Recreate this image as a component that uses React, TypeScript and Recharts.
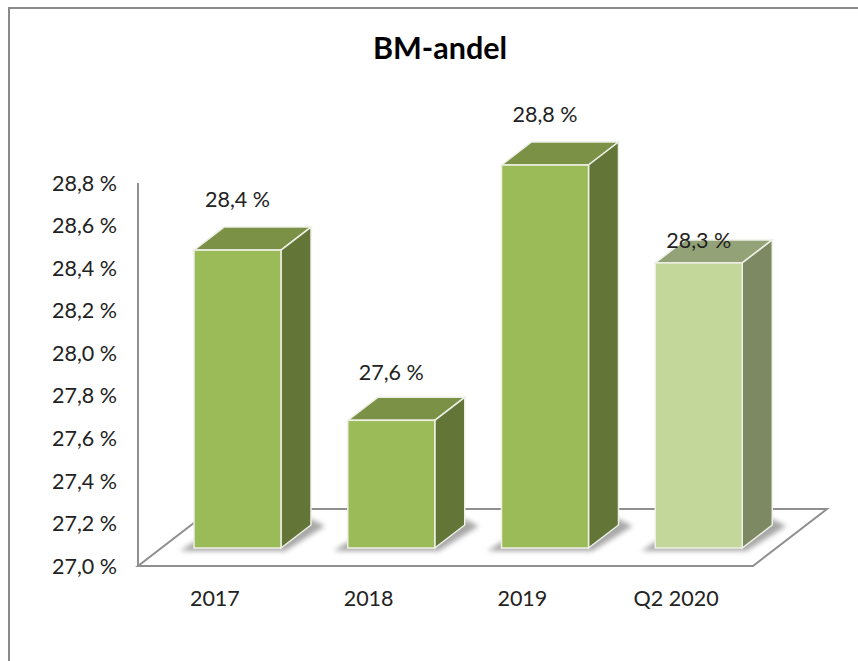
import { BarChart, Bar, XAxis, YAxis, LabelList, usePlotArea } from 'recharts'

const categories = ['2017', '2018', '2019', 'Q2 2020']
const shares = [28.4, 27.6, 28.8, 28.34]
const yTicks = [27.0, 27.2, 27.4, 27.6, 27.8, 28.0, 28.2, 28.4, 28.6, 28.8]

const data = categories.map((category, i) => ({ category, share: shares[i] }))

const FONT = 'Lato, sans-serif'
const AXIS_GREY = '#8f8f8f'
const TEXT = '#222222'
const TICK_SIZE = 21.5

// front plane of the bars sits inside the floor, back plane behind it
const PLANE_DX = 23
const PLANE_DY = -18
const DEPTH_X = 30
const DEPTH_Y = -23

const TONES: Record<string, { front: string; side: string; top: string }> = {
  dark: { front: '#9bbb59', side: '#647637', top: '#7a9146' },
  pale: { front: '#c4d79b', side: '#7d8963', top: '#94a278' },
}

const formatShare = (v: number) => `${v.toFixed(1).replace('.', ',')} %`

function Floor() {
  const plot = usePlotArea()
  if (!plot) return null
  const left = plot.x
  const right = plot.x + plot.width
  const bottom = plot.y + plot.height
  const points = [
    [left, bottom],
    [right, bottom],
    [right + 74, bottom - 57],
    [left + 74, bottom - 57],
  ]
  return (
    <polygon
      points={points.map((p) => p.join(',')).join(' ')}
      fill="#ffffff"
      stroke={AXIS_GREY}
      strokeWidth={2}
    />
  )
}

function Box3D(props: any) {
  const { x, y, width, height, payload } = props
  const tone = payload.category === 'Q2 2020' ? TONES.pale : TONES.dark
  const fx = x + PLANE_DX
  const fy = y + PLANE_DY
  const r = fx + width
  const b = fy + height
  const poly = (pts: number[][]) => pts.map((p) => p.join(',')).join(' ')
  const edge = '#eef0e6'
  return (
    <g>
      <polygon
        points={poly([
          [fx - 14, b + 3],
          [r + 4, b + 3],
          [r + DEPTH_X + 14, b + DEPTH_Y + 1],
          [r + DEPTH_X, b + DEPTH_Y - 6],
          [fx, b - 6],
        ])}
        fill="#8a8a8a"
        opacity={0.75}
        filter="url(#baseShadow)"
      />
      <polygon
        points={poly([
          [fx, fy],
          [fx + DEPTH_X, fy + DEPTH_Y],
          [r + DEPTH_X, fy + DEPTH_Y],
          [r, fy],
        ])}
        fill={tone.top}
        stroke={edge}
        strokeWidth={1.5}
      />
      <polygon
        points={poly([
          [r, fy],
          [r + DEPTH_X, fy + DEPTH_Y],
          [r + DEPTH_X, b + DEPTH_Y],
          [r, b],
        ])}
        fill={tone.side}
        stroke={edge}
        strokeWidth={1.5}
      />
      <rect x={fx} y={fy} width={width} height={height} fill={tone.front} stroke={edge} strokeWidth={1.5} />
    </g>
  )
}

function ShareLabel(props: any) {
  const { x, y, width, value, index } = props
  // the last label was pulled down onto the box in the original
  const lift = index === 3 ? 24 : index === 1 ? 49 : 52
  return (
    <text
      x={x + PLANE_DX + width / 2}
      y={y + PLANE_DY - lift + 1}
      textAnchor="middle"
      dominantBaseline="central"
      fontFamily={FONT}
      fontSize={TICK_SIZE}
      fill={TEXT}
    >
      {formatShare(value)}
    </text>
  )
}

export default function App() {
  return (
    <div style={{ position: 'absolute', left: 0, top: 0, width: 858, height: 661, overflow: 'hidden', background: '#fff' }}>
      <div
        style={{
          position: 'absolute',
          left: 8,
          top: 7,
          width: 880,
          height: 700,
          border: '2px solid #8a8a8a',
        }}
      />
      <div
        style={{
          position: 'absolute',
          left: 240,
          width: 400,
          top: 29,
          textAlign: 'center',
          fontFamily: FONT,
          fontWeight: 700,
          fontSize: 30.5,
          lineHeight: '36px',
          color: '#000',
        }}
      >
        BM-andel
      </div>
      <div style={{ position: 'absolute', left: 0, top: 0 }}>
        <BarChart
          width={858}
          height={661}
          data={data}
          margin={{ top: 183, right: 105, bottom: 35, left: 0 }}
          barSize={87}
        >
          <defs>
            <filter id="baseShadow" x="-20%" y="-50%" width="140%" height="200%">
              <feGaussianBlur stdDeviation="2.5" />
            </filter>
          </defs>
          <Floor />
          <XAxis
            dataKey="category"
            height={60}
            axisLine={false}
            tickLine={false}
            tickMargin={19}
            tick={{ fontFamily: FONT, fontSize: TICK_SIZE, fill: TEXT }}
          />
          <YAxis
            width={138}
            domain={[27, 28.8]}
            ticks={yTicks}
            interval={0}
            tickFormatter={formatShare}
            tickLine={false}
            tickSize={0}
            tickMargin={21}
            axisLine={{ stroke: AXIS_GREY, strokeWidth: 2 }}
            tick={{ fontFamily: FONT, fontSize: TICK_SIZE, fill: TEXT }}
          />
          <Bar dataKey="share" shape={Box3D} isAnimationActive={false}>
            <LabelList dataKey="share" content={ShareLabel} />
          </Bar>
        </BarChart>
      </div>
    </div>
  )
}
